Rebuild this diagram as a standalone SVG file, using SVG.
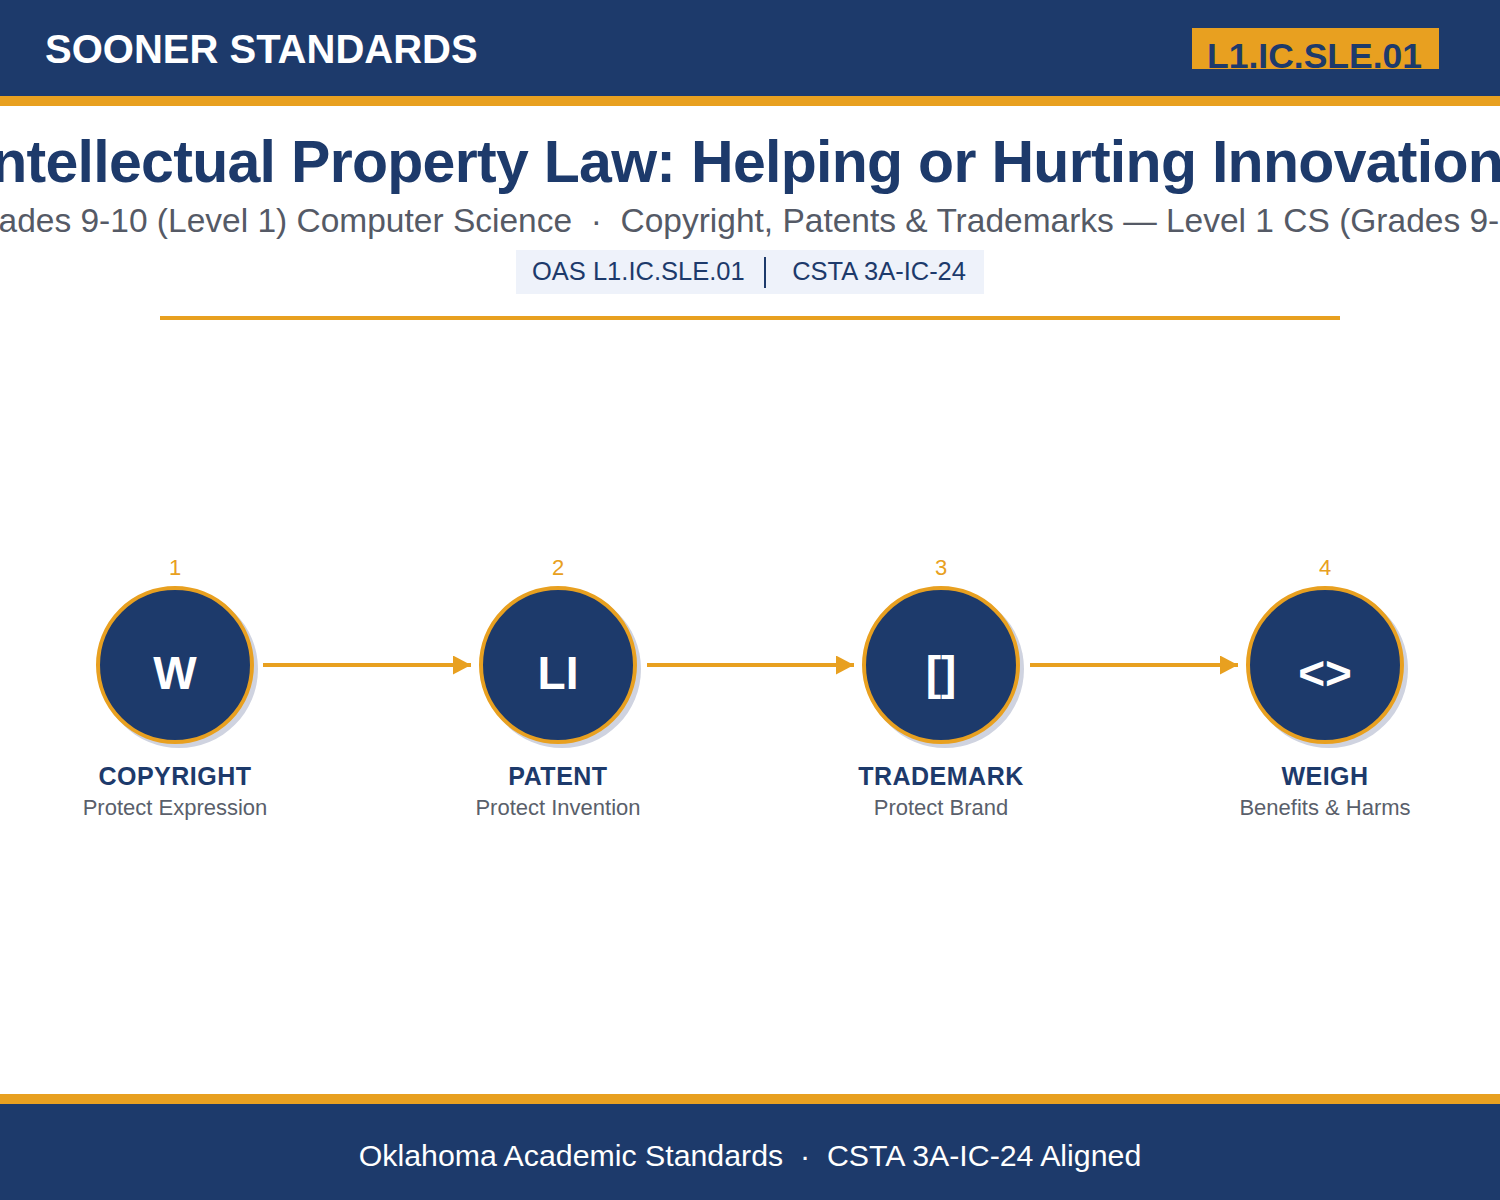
<svg xmlns="http://www.w3.org/2000/svg" width="1500" height="1200" viewBox="0 0 1500 1200">
<defs>
<style>
.t{font-family:"Liberation Sans",Arial,sans-serif}
.node-c{fill:#1d3a6b;stroke:#e8a020;stroke-width:4}
.shadow{fill:#cfd3e0}
.num{font-size:22px;fill:#e8a020;text-anchor:middle}
.icon{font-size:46px;font-weight:bold;fill:#ffffff;text-anchor:middle}
.lbl{font-size:25px;font-weight:bold;fill:#1d3a6b;text-anchor:middle;letter-spacing:0.5px}
.sub{font-size:22px;fill:#5a5f6b;text-anchor:middle}
.conn{stroke:#e8a020;stroke-width:4;fill:none}
.tag{font-size:25.5px;fill:#1d3a6b}
</style>
<marker id="ah" markerWidth="18" markerHeight="19" refX="18" refY="9.5" orient="auto" markerUnits="userSpaceOnUse">
<path d="M0,0 L18,9.5 L0,19 Z" fill="#e8a020"/>
</marker>
</defs>
<rect width="1500" height="1200" fill="#ffffff"/>
<g id="header">
<rect x="0" y="0" width="1500" height="96" fill="#1d3a6b"/>
<rect x="0" y="96" width="1500" height="10" fill="#e8a020"/>
<text class="t" x="45" y="63" font-size="40" font-weight="bold" fill="#ffffff">SOONER STANDARDS</text>
<rect x="1192" y="28" width="247" height="41" fill="#e8a020"/>
<text class="t" x="1207" y="67.5" font-size="35.5" font-weight="bold" fill="#1d3a6b">L1.IC.SLE.01</text>
</g>
<g id="titles">
<text class="t" x="757" y="182" font-size="59" font-weight="bold" fill="#1d3a6b" text-anchor="middle" letter-spacing="-0.7">Intellectual Property Law: Helping or Hurting Innovation?</text>
<text class="t" x="754.5" y="232" font-size="33.5" fill="#555a66" text-anchor="middle" xml:space="preserve">Grades 9-10 (Level 1) Computer Science  ·  Copyright, Patents &amp; Trademarks — Level 1 CS (Grades 9-10)</text>
<rect x="516" y="250" width="468" height="44" fill="#eef2fa"/>
<text class="t tag" x="532" y="280">OAS L1.IC.SLE.01</text>
<rect x="764" y="257" width="2" height="31" fill="#1d3a6b"/>
<text class="t tag" x="966" y="280" text-anchor="end">CSTA 3A-IC-24</text>
<rect x="160" y="316" width="1180" height="4" fill="#e8a020"/>
</g>
<g id="connectors">
<line class="conn" x1="263" y1="665" x2="471" y2="665" marker-end="url(#ah)"/>
<line class="conn" x1="647" y1="665" x2="854" y2="665" marker-end="url(#ah)"/>
<line class="conn" x1="1030" y1="665" x2="1238" y2="665" marker-end="url(#ah)"/>
</g>
<g id="node-copyright">
<circle class="shadow" cx="179" cy="669" r="79"/>
<circle class="node-c" cx="175" cy="665" r="77"/>
<text class="t num" x="175" y="575">1</text>
<text class="t icon" x="175" y="689">W</text>
<text class="t lbl" x="175" y="785">COPYRIGHT</text>
<text class="t sub" x="175" y="815">Protect Expression</text>
</g>
<g id="node-patent">
<circle class="shadow" cx="562" cy="669" r="79"/>
<circle class="node-c" cx="558" cy="665" r="77"/>
<text class="t num" x="558" y="575">2</text>
<text class="t icon" x="558" y="689">LI</text>
<text class="t lbl" x="558" y="785">PATENT</text>
<text class="t sub" x="558" y="815">Protect Invention</text>
</g>
<g id="node-trademark">
<circle class="shadow" cx="945" cy="669" r="79"/>
<circle class="node-c" cx="941" cy="665" r="77"/>
<text class="t num" x="941" y="575">3</text>
<text class="t icon" x="941" y="689">[]</text>
<text class="t lbl" x="941" y="785">TRADEMARK</text>
<text class="t sub" x="941" y="815">Protect Brand</text>
</g>
<g id="node-weigh">
<circle class="shadow" cx="1329" cy="669" r="79"/>
<circle class="node-c" cx="1325" cy="665" r="77"/>
<text class="t num" x="1325" y="575">4</text>
<text class="t icon" x="1325" y="689">&lt;&gt;</text>
<text class="t lbl" x="1325" y="785">WEIGH</text>
<text class="t sub" x="1325" y="815">Benefits &amp; Harms</text>
</g>
<g id="footer">
<rect x="0" y="1094" width="1500" height="10" fill="#e8a020"/>
<rect x="0" y="1104" width="1500" height="96" fill="#1d3a6b"/>
<text class="t" x="750" y="1166" font-size="30.3" fill="#ffffff" text-anchor="middle" xml:space="preserve">Oklahoma Academic Standards  ·  CSTA 3A-IC-24 Aligned</text>
</g>
</svg>
